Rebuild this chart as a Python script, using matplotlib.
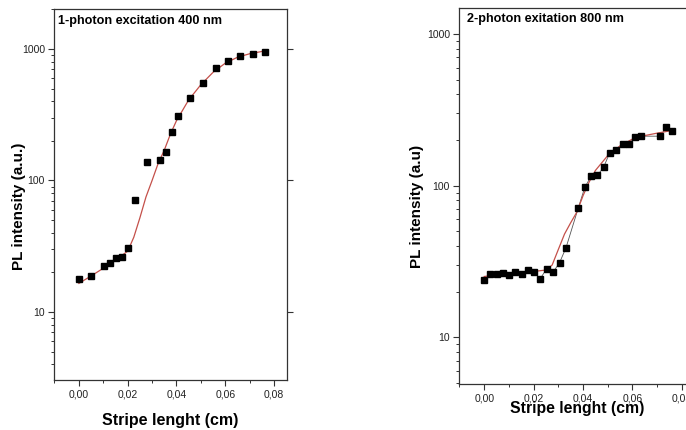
import matplotlib
matplotlib.use("Agg")
import matplotlib.pyplot as plt
from matplotlib.ticker import LogLocator, FixedLocator, FuncFormatter, NullFormatter, MultipleLocator

plt.rcParams['font.family'] = ['Liberation Sans', 'DejaVu Sans']

# 1-photon excitation (400 nm)
x1 = [0.0, 0.0049, 0.0101, 0.0126, 0.0152, 0.0177, 0.0201, 0.0229, 0.0279,
      0.0331, 0.0356, 0.0382, 0.0407, 0.0457, 0.0508, 0.0560, 0.0611, 0.0661,
      0.0712, 0.0764]
y1 = [17.8, 18.7, 22.4, 23.4, 25.7, 26.2, 30.7, 70.6, 138, 143, 166, 233, 311,
      421, 548, 713, 806, 889, 911, 944]
fit1_x = [0.0, 0.005, 0.010, 0.015, 0.020, 0.0225, 0.025, 0.0275, 0.030, 0.0325,
          0.035, 0.0375, 0.040, 0.045, 0.050, 0.055, 0.060, 0.065, 0.070, 0.076]
fit1_y = [16.5, 18.8, 21.5, 24.8, 29, 37, 52, 75, 100, 135, 170, 225, 285, 410,
          535, 665, 780, 865, 920, 965]

# 2-photon excitation (800 nm)
x2 = [0.0, 0.0025, 0.0051, 0.0076, 0.0100, 0.0126, 0.0151, 0.0177, 0.0202,
      0.0227, 0.0253, 0.0280, 0.0305, 0.0331, 0.0381, 0.0407, 0.0432, 0.0458,
      0.0483, 0.0508, 0.0534, 0.0560, 0.0585, 0.0610, 0.0636, 0.0712, 0.0737,
      0.0761]
y2 = [23.9, 26.1, 26.3, 26.4, 25.8, 27.1, 26.1, 28.0, 26.8, 24.4, 28.4, 27.1,
      31.1, 39.0, 71.6, 97.4, 115, 117, 132, 165, 173, 189, 188, 209, 212, 212,
      242, 229]
fit2_x = [0.0, 0.005, 0.010, 0.015, 0.020, 0.025, 0.0275, 0.030, 0.0325, 0.035,
          0.0375, 0.040, 0.0425, 0.045, 0.050, 0.055, 0.060, 0.065, 0.070, 0.076]
fit2_y = [25.2, 25.8, 26.3, 26.8, 27.2, 27.8, 30, 38, 48, 57, 67, 86, 106, 126,
          158, 183, 203, 214, 222, 231]

xticks = [0.0, 0.02, 0.04, 0.06, 0.08]
xticklabels = ['0,00', '0,02', '0,04', '0,06', '0,08']

fig = plt.figure(figsize=(6.86, 4.30), dpi=100)
ax1 = fig.add_axes([54/686, 1 - 380/430, 233/686, 371/430])
ax2 = fig.add_axes([459/686, 1 - 384/430, 236/686, 376/430])

fit_color = '#c4504a'
spine_color = '#333333'


def style(ax, ylim, right_ticks):
    ax.set_yscale('log')
    ax.set_xlim(-0.0102, 0.0853)
    ax.set_ylim(*ylim)
    for s in ax.spines.values():
        s.set_color(spine_color)
        s.set_linewidth(0.9)
    ax.xaxis.set_major_locator(FixedLocator(xticks))
    ax.set_xticklabels(xticklabels)
    ax.xaxis.set_minor_locator(MultipleLocator(0.01))
    ax.yaxis.set_major_locator(LogLocator(base=10, numticks=10))
    ax.yaxis.set_minor_locator(LogLocator(base=10, subs=range(2, 10), numticks=20))
    ax.yaxis.set_major_formatter(FuncFormatter(lambda v, p: f"{v:.0f}"))
    ax.yaxis.set_minor_formatter(NullFormatter())
    ax.tick_params(axis='both', which='major', direction='out', length=4.5,
                   width=0.8, color=spine_color, labelsize=7.5,
                   labelcolor='#222222', pad=2)
    ax.tick_params(axis='both', which='minor', direction='out', length=2.5,
                   width=0.7, color=spine_color)
    ax.tick_params(axis='x', which='major', pad=2)
    if right_ticks:
        ax.tick_params(axis='y', which='major', right=True, labelright=False)
        ax.tick_params(axis='y', which='minor', right=False)


style(ax1, (3.04, 2014), True)
style(ax2, (4.93, 1483), False)

ax1.plot(fit1_x, fit1_y, color=fit_color, lw=0.9, zorder=2)
ax1.plot(x1, y1, 's', color='black', ms=4.3, zorder=3)

ax2.plot(x2, y2, '-', color='#555555', lw=0.6, zorder=1)
ax2.plot(fit2_x, fit2_y, color=fit_color, lw=0.9, zorder=2)
ax2.plot(x2, y2, 's', color='black', ms=4.3, zorder=3)

ax1.text(0.018, 0.985, '1-photon excitation 400 nm', transform=ax1.transAxes,
         fontsize=9.1, fontweight='bold', ha='left', va='top')
ax2.text(0.033, 0.988, '2-photon exitation 800 nm', transform=ax2.transAxes,
         fontsize=9.1, fontweight='bold', ha='left', va='top')

fig.text(19.5/686, 1 - 206/430, 'PL intensity (a.u.)', rotation=90, fontsize=11,
         fontweight='bold', ha='center', va='center')
fig.text(417.5/686, 1 - 206/430, 'PL intensity (a.u)', rotation=90, fontsize=11,
         fontweight='bold', ha='center', va='center')
fig.text(170/686, 1 - 420/430, 'Stripe lenght (cm)', fontsize=11.5,
         fontweight='bold', ha='center', va='center')
fig.text(577/686, 1 - 409/430, 'Stripe lenght (cm)', fontsize=11.3,
         fontweight='bold', ha='center', va='center')

fig.savefig('out.png', dpi=100)
